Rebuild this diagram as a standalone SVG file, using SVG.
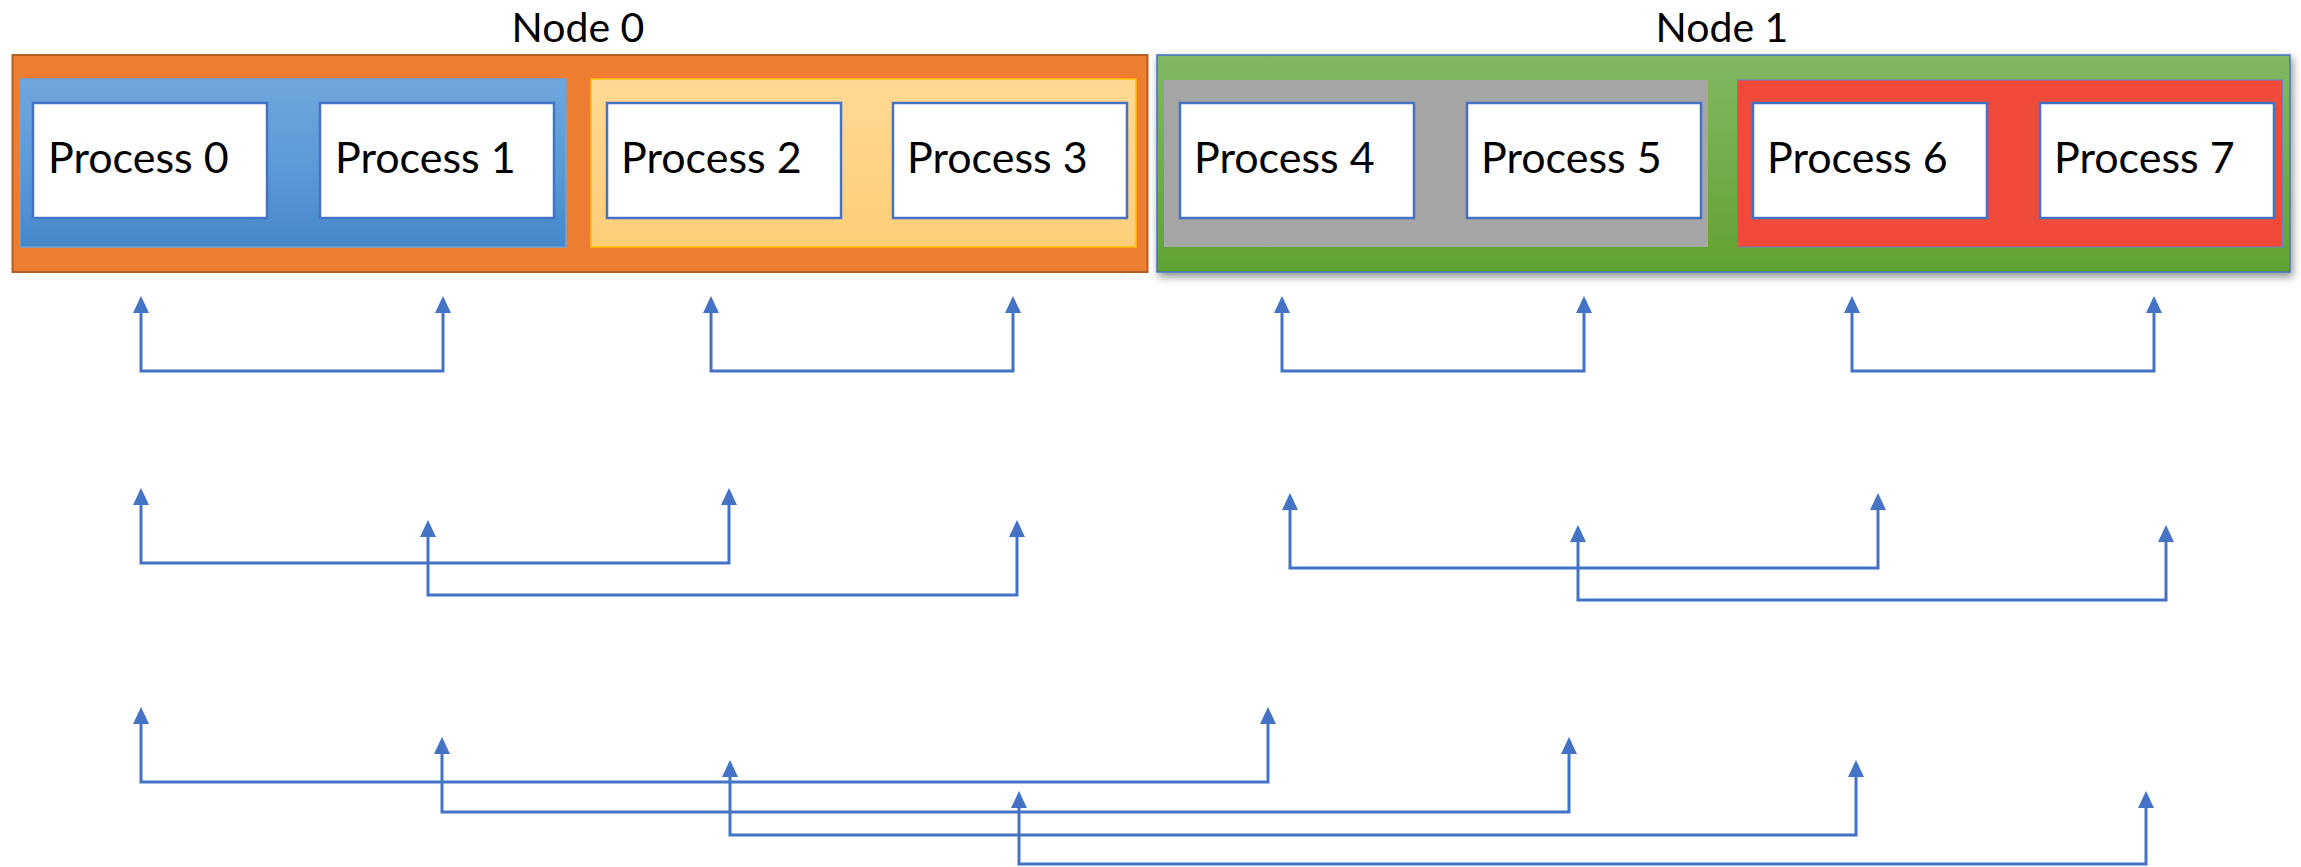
<svg xmlns="http://www.w3.org/2000/svg" width="2301" height="867" viewBox="0 0 2301 867">
  <defs>
    <linearGradient id="gradBlue" x1="0" y1="0" x2="0" y2="1">
      <stop offset="0" stop-color="#70A6DC"/>
      <stop offset="0.5" stop-color="#5B9BD8"/>
      <stop offset="1" stop-color="#4687C8"/>
    </linearGradient>
    <linearGradient id="gradYellow" x1="0" y1="0" x2="0" y2="1">
      <stop offset="0" stop-color="#FFD995"/>
      <stop offset="1" stop-color="#FECE78"/>
    </linearGradient>
    <linearGradient id="gradGreen" x1="0" y1="0" x2="0" y2="1">
      <stop offset="0" stop-color="#81B862"/>
      <stop offset="1" stop-color="#60A232"/>
    </linearGradient>
    <filter id="nodeShadow" x="-5%" y="-10%" width="110%" height="130%">
      <feDropShadow dx="2" dy="4" stdDeviation="4" flood-color="#000000" flood-opacity="0.45"/>
    </filter>
    <marker id="arrow" markerUnits="userSpaceOnUse" viewBox="0 0 17 16" refX="1" refY="8" markerWidth="17" markerHeight="16" orient="auto-start-reverse">
      <path d="M0,0 L17,8 L0,16 z" fill="#4472C4"/>
    </marker>
  </defs>
  <style>
    .proc { fill: #FFFFFF; stroke: #4472C4; stroke-width: 2.5; }
    .proc-text { font-family: Lato, "Liberation Sans", sans-serif; font-size: 43px; fill: #000000; }
    .node-label { font-family: Lato, "Liberation Sans", sans-serif; font-size: 41px; fill: #000000; text-anchor: middle; }
    .link { fill: none; stroke: #4472C4; stroke-width: 3; stroke-linecap: square; marker-start: url(#arrow); marker-end: url(#arrow); }
  </style>

  <rect width="2301" height="867" fill="#FFFFFF"/>

  <!-- Node 0 -->
  <g id="node0">
    <text class="node-label" x="578" y="42">Node 0</text>
    <rect x="12.5" y="55" width="1135" height="217" fill="#ED7D31" stroke="#B35E25" stroke-width="2"/>
    <g id="group01">
      <rect x="20" y="79" width="546" height="168" fill="url(#gradBlue)" stroke="#6EA3DA" stroke-width="1.5"/>
      <g id="process0">
        <rect class="proc" x="33" y="103" width="234" height="115"/>
        <text class="proc-text" x="48" y="173">Process 0</text>
      </g>
      <g id="process1">
        <rect class="proc" x="320" y="103" width="234" height="115"/>
        <text class="proc-text" x="335" y="173">Process 1</text>
      </g>
    </g>
    <g id="group23">
      <rect x="591" y="79" width="545" height="168" fill="url(#gradYellow)" stroke="#FFC000" stroke-width="1.5"/>
      <g id="process2">
        <rect class="proc" x="607" y="103" width="234" height="115"/>
        <text class="proc-text" x="621" y="173">Process 2</text>
      </g>
      <g id="process3">
        <rect class="proc" x="893" y="103" width="234" height="115"/>
        <text class="proc-text" x="907" y="173">Process 3</text>
      </g>
    </g>
  </g>

  <!-- Node 1 -->
  <g id="node1">
    <text class="node-label" x="1722" y="42">Node 1</text>
    <rect x="1157" y="55" width="1133" height="217" fill="url(#gradGreen)" stroke="#4472C4" stroke-width="1.5" filter="url(#nodeShadow)"/>
    <g id="group45">
      <rect x="1164" y="80" width="544" height="167" fill="#A5A5A5"/>
      <g id="process4">
        <rect class="proc" x="1180" y="103" width="234" height="115"/>
        <text class="proc-text" x="1194" y="173">Process 4</text>
      </g>
      <g id="process5">
        <rect class="proc" x="1467" y="103" width="234" height="115"/>
        <text class="proc-text" x="1481" y="173">Process 5</text>
      </g>
    </g>
    <g id="group67">
      <rect x="1737.5" y="80" width="545" height="167" fill="#F04B3A" stroke="#6D7FC8" stroke-width="1"/>
      <g id="process6">
        <rect class="proc" x="1753" y="103" width="234" height="115"/>
        <text class="proc-text" x="1767" y="173">Process 6</text>
      </g>
      <g id="process7">
        <rect class="proc" x="2040" y="103" width="234" height="115"/>
        <text class="proc-text" x="2054" y="173">Process 7</text>
      </g>
    </g>
  </g>

  <!-- exchange pattern connectors -->
  <g id="connectors">
    <!-- step 1: neighbours -->
    <path class="link" d="M141,312 V371 H443 V312"/>
    <path class="link" d="M711,312 V371 H1013 V312"/>
    <path class="link" d="M1282,312 V371 H1584 V312"/>
    <path class="link" d="M1852,312 V371 H2154 V312"/>
    <!-- step 2: distance two -->
    <path class="link" d="M141,504 V563 H729 V504"/>
    <path class="link" d="M428,536 V595 H1017 V536"/>
    <path class="link" d="M1290,509 V568 H1878 V509"/>
    <path class="link" d="M1578,541 V600 H2166 V541"/>
    <!-- step 3: across nodes -->
    <path class="link" d="M141,723 V782 H1268 V723"/>
    <path class="link" d="M442,753 V812 H1569 V753"/>
    <path class="link" d="M730,776 V835 H1856 V776"/>
    <path class="link" d="M1019,807 V864 H2146 V807"/>
  </g>
</svg>
